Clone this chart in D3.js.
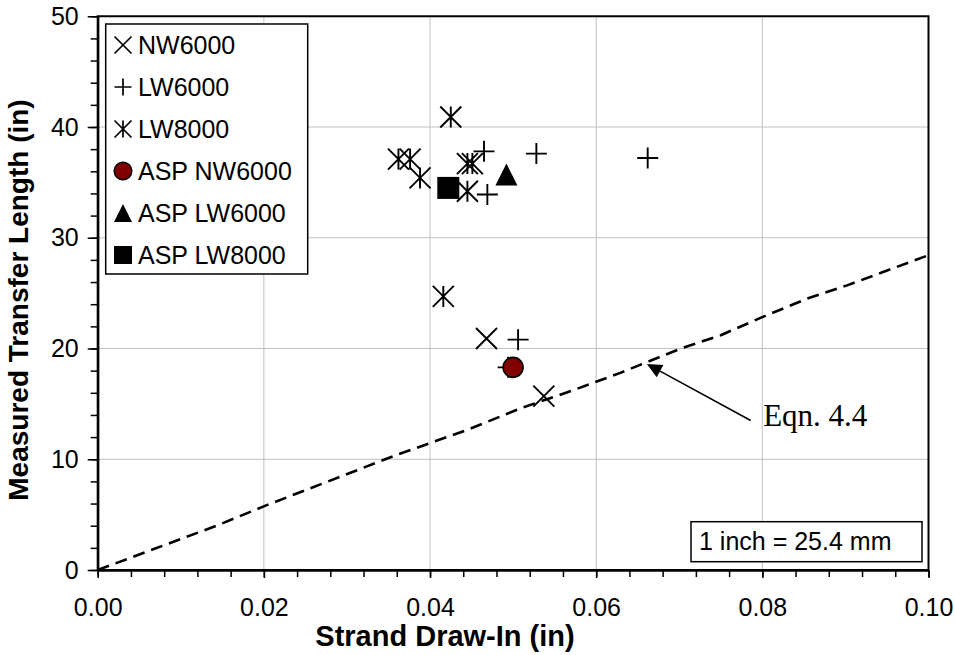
<!DOCTYPE html>
<html>
<head>
<meta charset="utf-8">
<script src="https://cdn.jsdelivr.net/npm/d3@7"></script>
<style>
  body { margin: 0; background: #fff; }
  svg { display: block; font-family: "Liberation Sans", Arial, sans-serif; }
  text { fill: #000; }
</style>
</head>
<body>
<svg id="chart" width="955" height="655"></svg>
<script>
// Measured transfer length vs. strand draw-in, by specimen series
const nw6000X = [0.0468, 0.0537];
const nw6000Y = [20.9, 15.7];

const lw6000X = [0.0465, 0.0469, 0.0528, 0.0662, 0.0506, 0.0494];
const lw6000Y = [37.8, 33.9, 37.6, 37.2, 20.8, 18.3];

const lw8000X = [0.0362, 0.0376, 0.0388, 0.0425, 0.0416, 0.0445, 0.0451, 0.0445];
const lw8000Y = [37.1, 37.1, 35.4, 40.9, 24.7, 36.7, 36.7, 34.2];

const aspNW6000X = [0.0500];
const aspNW6000Y = [18.3];
const aspLW6000X = [0.0492];
const aspLW6000Y = [35.7];
const aspLW8000X = [0.0422];
const aspLW8000Y = [34.5];

// Predicted transfer length (Eqn. 4.4)
const eqnX = [0, 0.0143, 0.0205, 0.0298, 0.0360, 0.0443, 0.0509, 0.0573, 0.0629, 0.0702, 0.0750, 0.0802, 0.0854, 0.0902, 0.0999, 0.1000];
const eqnY = [0, 4.0, 5.9, 8.6, 10.4, 12.6, 14.6, 16.25, 17.8, 20.0, 21.2, 22.9, 24.5, 25.7, 28.4, 28.6];

const xTicks = [0, 0.02, 0.04, 0.06, 0.08, 0.10];
const yTicks = [0, 10, 20, 30, 40, 50];
const xMinorTicks = d3.range(0, 0.1001, 0.004);
const yMinorTicks = d3.range(0, 50.1, 2);

const legendLabels = ["NW6000", "LW6000", "LW8000", "ASP NW6000", "ASP LW6000", "ASP LW8000"];
const legendShapes = ["x", "plus", "asterisk", "circle", "triangle", "square"];

const svg = d3.select("#chart");
const x = d3.scaleLinear().domain([0, 0.1]).range([97.7, 928.5]);
const y = d3.scaleLinear().domain([0, 50]).range([570, 16.25]);

// Gridlines
const grid = svg.append("g").attr("stroke", "#c0c0c0").attr("stroke-width", 1);
grid.selectAll("line.gx").data(xTicks.slice(1, -1)).join("line")
  .attr("x1", d => x(d)).attr("x2", d => x(d))
  .attr("y1", y(0)).attr("y2", y(50));
grid.selectAll("line.gy").data(yTicks.slice(1, -1)).join("line")
  .attr("x1", x(0)).attr("x2", x(0.1))
  .attr("y1", d => y(d)).attr("y2", d => y(d));

// Eqn. 4.4 curve
const eqnPts = eqnX.map((v, i) => [v, eqnY[i]]);
svg.append("path")
  .attr("d", d3.line().x(d => x(d[0])).y(d => y(d[1]))(eqnPts))
  .attr("fill", "none").attr("stroke", "#000")
  .attr("stroke-width", 2.6).attr("stroke-dasharray", "12,7");

// Marker shapes
function markerPath(shape, h) {
  const p = d3.path();
  if (shape === "x" || shape === "asterisk") {
    p.moveTo(-h, -h); p.lineTo(h, h);
    p.moveTo(-h, h); p.lineTo(h, -h);
  }
  if (shape === "plus" || shape === "asterisk") {
    p.moveTo(0, -h); p.lineTo(0, h);
  }
  if (shape === "plus") {
    p.moveTo(-h, 0); p.lineTo(h, 0);
  }
  if (shape === "triangle") {
    p.moveTo(0, -h); p.lineTo(h, h); p.lineTo(-h, h); p.closePath();
  }
  if (shape === "square") {
    p.rect(-h, -h, 2 * h, 2 * h);
  }
  return p.toString();
}

function drawSeries(xs, ys, shape, h) {
  const g = svg.append("g");
  const pts = xs.map((v, i) => [v, ys[i]]);
  if (shape === "circle") {
    g.selectAll("circle").data(pts).join("circle")
      .attr("cx", d => x(d[0])).attr("cy", d => y(d[1])).attr("r", h)
      .attr("fill", "#800000").attr("stroke", "#000").attr("stroke-width", 1.6);
    return;
  }
  const filled = shape === "triangle" || shape === "square";
  g.selectAll("path").data(pts).join("path")
    .attr("transform", d => `translate(${x(d[0])},${y(d[1])})`)
    .attr("d", markerPath(shape, h))
    .attr("fill", filled ? "#000" : "none")
    .attr("stroke", "#000")
    .attr("stroke-width", filled ? 0 : 1.9);
}

drawSeries(nw6000X, nw6000Y, "x", 10.5);
drawSeries(lw6000X, lw6000Y, "plus", 10.5);
drawSeries(lw8000X, lw8000Y, "asterisk", 10.5);
drawSeries(aspNW6000X, aspNW6000Y, "circle", 10);
drawSeries(aspLW6000X, aspLW6000Y, "triangle", 11);
drawSeries(aspLW8000X, aspLW8000Y, "square", 11);

// Plot frame
svg.append("rect")
  .attr("x", x(0)).attr("y", y(50))
  .attr("width", x(0.1) - x(0)).attr("height", y(0) - y(50))
  .attr("fill", "none").attr("stroke", "#000").attr("stroke-width", 2);

// Axes
function styleAxis(g) {
  g.select(".domain").attr("stroke", "#000").attr("stroke-width", 2);
  g.selectAll(".tick line").attr("stroke", "#000").attr("stroke-width", 1.5);
  g.selectAll(".tick text").style("font-size", "25px").style("font-family", "'Liberation Sans', Arial, sans-serif");
}

svg.append("g").attr("transform", `translate(0,${y(0)})`)
  .call(d3.axisBottom(x).tickValues(xMinorTicks).tickSize(7).tickSizeOuter(0).tickFormat(""))
  .call(styleAxis);
svg.append("g").attr("transform", `translate(0,${y(0)})`)
  .call(d3.axisBottom(x).tickValues(xTicks).tickSize(8).tickSizeOuter(0).tickPadding(20).tickFormat(d3.format(".2f")))
  .call(styleAxis);

svg.append("g").attr("transform", `translate(${x(0)},0)`)
  .call(d3.axisLeft(y).tickValues(yMinorTicks).tickSize(7).tickSizeOuter(0).tickFormat(""))
  .call(styleAxis);
svg.append("g").attr("transform", `translate(${x(0)},0)`)
  .call(d3.axisLeft(y).tickValues(yTicks).tickSize(10).tickSizeOuter(0).tickPadding(9).tickFormat(d3.format("d")))
  .call(styleAxis);

// Axis titles
svg.append("text")
  .attr("x", 445).attr("y", 646)
  .attr("text-anchor", "middle").style("font-size", "29px").style("font-weight", "bold")
  .text("Strand Draw-In (in)");
svg.append("text")
  .attr("transform", `translate(28,300) rotate(-90)`)
  .attr("text-anchor", "middle").style("font-size", "28px").style("font-weight", "bold")
  .text("Measured Transfer Length (in)");

// Legend
const legend = svg.append("g");
legend.append("rect")
  .attr("x", 105.7).attr("y", 24).attr("width", 202).attr("height", 250)
  .attr("fill", "#fff").attr("stroke", "#000").attr("stroke-width", 1.5);
legendLabels.forEach((label, i) => {
  const cy = 45 + i * 42;
  const shape = legendShapes[i];
  if (shape === "circle") {
    legend.append("circle").attr("cx", 123).attr("cy", cy).attr("r", 8.8)
      .attr("fill", "#800000").attr("stroke", "#000").attr("stroke-width", 1.5);
  } else {
    const filled = shape === "triangle" || shape === "square";
    legend.append("path")
      .attr("transform", `translate(123,${cy})`)
      .attr("d", markerPath(shape, filled ? 9 : 8.5))
      .attr("fill", filled ? "#000" : "none")
      .attr("stroke", "#000").attr("stroke-width", filled ? 0 : 1.7);
  }
  legend.append("text")
    .attr("x", 138).attr("y", cy).attr("dy", "0.36em")
    .style("font-size", "25px")
    .text(label);
});

// Eqn. 4.4 callout arrow
const tip = [x(0.0661), y(18.6)];
const tail = [x(0.0786), y(13.5)];
const ang = Math.atan2(tip[1] - tail[1], tip[0] - tail[0]);
const headLen = 15, headHalf = 7;
const base = [tip[0] - headLen * Math.cos(ang), tip[1] - headLen * Math.sin(ang)];
svg.append("line")
  .attr("x1", tail[0]).attr("y1", tail[1]).attr("x2", base[0]).attr("y2", base[1])
  .attr("stroke", "#000").attr("stroke-width", 1.6);
svg.append("path")
  .attr("d", `M${tip[0]},${tip[1]}L${base[0] + headHalf * Math.sin(ang)},${base[1] - headHalf * Math.cos(ang)}L${base[0] - headHalf * Math.sin(ang)},${base[1] + headHalf * Math.cos(ang)}Z`)
  .attr("fill", "#000");
svg.append("text")
  .attr("x", x(0.0801)).attr("y", y(13.0))
  .style("font-family", "'Liberation Serif', 'Times New Roman', serif")
  .style("font-size", "31px")
  .text("Eqn. 4.4");

// Unit conversion note
svg.append("rect")
  .attr("x", 691).attr("y", 521.7).attr("width", 231).attr("height", 40)
  .attr("fill", "#fff").attr("stroke", "#000").attr("stroke-width", 1.5);
svg.append("text")
  .attr("x", 699).attr("y", 549.5).style("font-size", "25px")
  .text("1 inch = 25.4 mm");
</script>
</body>
</html>
